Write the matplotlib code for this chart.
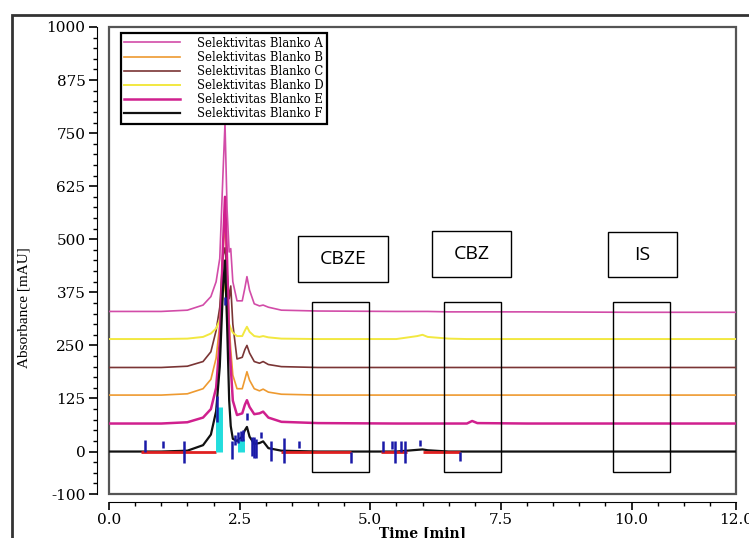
import numpy as np
import matplotlib
matplotlib.use("Agg")
import matplotlib.pyplot as plt
from matplotlib.patches import Rectangle
from matplotlib.ticker import MultipleLocator, FixedLocator

plt.rcParams["axes.unicode_minus"] = False

# temps commun (min)
t = [0, 1.0, 1.5, 1.8, 1.95, 2.05, 2.12, 2.18, 2.22, 2.26, 2.3, 2.33, 2.37, 2.45,
     2.55, 2.6, 2.64, 2.69, 2.78, 2.88, 2.95, 3.05, 3.3, 4.0, 5.5, 5.9, 6.0, 6.1,
     6.5, 6.85, 6.95, 7.05, 8.0, 10.0, 12.0]

blanko_a = [330, 330, 333, 345, 365, 400, 455, 650, 773, 570, 470, 478, 400, 355,
            355, 385, 412, 380, 348, 343, 345, 340, 333, 331, 330, 330, 330, 330,
            329, 329, 329, 329, 329, 328, 328]
blanko_b = [133, 133, 136, 148, 170, 220, 300, 470, 540, 430, 300, 240, 180, 148,
            148, 170, 188, 168, 148, 143, 147, 140, 135, 133, 133, 133, 133, 133,
            133, 133, 133, 133, 133, 133, 133]
blanko_c = [198, 198, 201, 212, 235, 285, 340, 460, 480, 420, 360, 390, 300, 218,
            222, 240, 250, 232, 212, 208, 212, 205, 200, 198, 198, 198, 198, 198,
            198, 198, 198, 198, 198, 198, 198]
blanko_d = [265, 265, 266, 270, 278, 290, 310, 370, 400, 340, 300, 290, 280, 272,
            272, 285, 294, 282, 272, 270, 272, 269, 266, 265, 265, 272, 275, 270,
            266, 265, 265, 265, 265, 265, 265]
blanko_e = [66, 66, 69, 80, 100, 150, 260, 480, 600, 450, 260, 200, 120, 86,
            90, 110, 121, 105, 88, 90, 94, 80, 70, 67, 66, 66, 66, 66,
            66, 66, 72, 67, 66, 66, 66]
blanko_f = [0, 0, 2, 15, 40, 95, 200, 380, 450, 300, 120, 60, 30, 25,
            35, 50, 58, 35, 18, 20, 24, 8, 2, 0, 0, 4, 5, 3,
            0, 0, 0, 0, 0, 0, 0]

series = [blanko_a, blanko_b, blanko_c, blanko_d, blanko_e, blanko_f]
labels = ["Selektivitas Blanko A", "Selektivitas Blanko B", "Selektivitas Blanko C",
          "Selektivitas Blanko D", "Selektivitas Blanko E", "Selektivitas Blanko F"]
colors = ["#d24ca8", "#ee9a30", "#7a3535", "#f2e840", "#d0208e", "#111111"]
widths = [1.2, 1.2, 1.2, 1.4, 1.8, 1.6]

# marques d'intégration (bleu)
mark_t = [0.68, 1.03, 1.43, 2.07, 2.22, 2.36, 2.42, 2.47, 2.52, 2.57, 2.64, 2.73, 2.78,
          2.82, 2.91, 3.10, 3.35, 3.63, 4.63, 5.24, 5.41, 5.47, 5.59, 5.66, 5.95, 6.72]
mark_lo = [0, 9, -27, 70, 345, -18, 15, 20, 25, 25, 75, -10, -15, -15, 31, -22, -27, 9,
           -27, 0, 7, -27, 0, -27, 12, -22]
mark_hi = [28, 26, 26, 130, 365, 26, 40, 45, 48, 50, 90, 35, 35, 30, 46, 26, 31, 26,
           0, 26, 26, 26, 26, 26, 28, 0]
cyan_t = [2.1, 2.52]
cyan_hi = [105, 30]
red_start = [0.62, 3.3, 5.2, 6.0]
red_end = [2.04, 4.63, 5.7, 6.72]

# fenêtres des composés
win_names = ["CBZE", "CBZ", "IS"]
win_start = [3.89, 6.41, 9.65]
win_end = [4.98, 7.50, 10.74]
win_lo, win_hi = -49, 352
lab_x0 = [3.62, 6.18, 9.55]
lab_x1 = [5.34, 7.69, 10.87]
lab_y0 = [399, 411, 411]
lab_y1 = [508, 519, 517]

fig = plt.figure(figsize=(7.49, 5.38), dpi=100)
ax = fig.add_axes([109/749, 1-494/538, 627/749, 467/538])

for y, lab, c, lw in zip(series, labels, colors, widths):
    ax.plot(t, y, color=c, lw=lw, label=lab)

ax.hlines([0] * len(red_start), red_start, red_end, color="#e02020", lw=2)
ax.vlines(cyan_t, 0, cyan_hi, color="#22dddd", lw=5)
ax.vlines(mark_t, mark_lo, mark_hi, color="#1a1aa8", lw=1.8)

for name, a, b, x0, x1, y0, y1 in zip(win_names, win_start, win_end,
                                       lab_x0, lab_x1, lab_y0, lab_y1):
    ax.add_patch(Rectangle((a, win_lo), b - a, win_hi - win_lo, fill=False,
                           ec="black", lw=1.0, zorder=5))
    ax.add_patch(Rectangle((x0, y0), x1 - x0, y1 - y0, fill=True, fc="white",
                           ec="black", lw=1.0, zorder=5))
    ax.text((x0 + x1) / 2, (y0 + y1) / 2, name, ha="center", va="center",
            fontsize=14, family="Open Sans", zorder=6)

ax.set_xlim(0, 12)
ax.set_ylim(-100, 1000)

# axes décalés + cadre
for s in ["top", "right"]:
    ax.spines[s].set_visible(False)
ax.spines["left"].set_position(("outward", 9))
ax.spines["bottom"].set_position(("outward", 6))
ax.add_patch(Rectangle((0, 0), 1, 1, transform=ax.transAxes, fill=False,
                       ec="#555555", lw=1.6, clip_on=False))

ax.xaxis.set_major_locator(FixedLocator([0, 2.5, 5, 7.5, 10, 12]))
ax.xaxis.set_minor_locator(MultipleLocator(0.5))
ax.set_yticks([-100, 0, 125, 250, 375, 500, 625, 750, 875, 1000])
ax.yaxis.set_minor_locator(MultipleLocator(25))
ax.set_xticklabels(["0.0", "2.5", "5.0", "7.5", "10.0", "12.0"])
ax.tick_params(which="major", direction="out", length=6, width=1.2, labelsize=11, pad=2)
ax.tick_params(which="minor", direction="out", length=3, width=1.0)
for lab in ax.get_xticklabels() + ax.get_yticklabels():
    lab.set_family("DejaVu Serif")

ax.set_xlabel("Time [min]", family="DejaVu Serif", fontweight="bold", fontsize=10, labelpad=-1)
ax.set_ylabel("Absorbance [mAU]", family="Liberation Serif", fontsize=11)
ax.yaxis.set_label_coords(-0.125, 0.40)

leg = ax.legend(loc="upper left", bbox_to_anchor=(0.019, 0.987), borderaxespad=0,
                prop={"family": "DejaVu Serif", "size": 8.4}, handlelength=4.8,
                handletextpad=1.4, labelspacing=0.1, borderpad=0.3, fancybox=False,
                framealpha=1)
leg.get_frame().set_edgecolor("black")
leg.get_frame().set_linewidth(1.6)

fig.add_artist(Rectangle((12/749, -0.1), 1.0, 1.1 - 15/538, transform=fig.transFigure,
                         fill=False, ec="#333333", lw=2))

fig.savefig("out.png", dpi=100)
